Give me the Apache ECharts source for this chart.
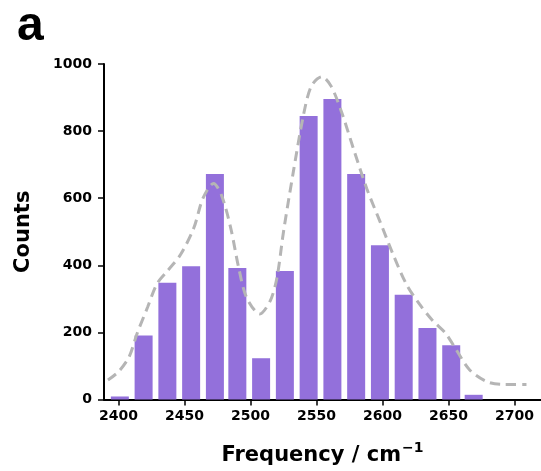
<!DOCTYPE html>
<html>
<head>
<meta charset="utf-8">
<script src="https://cdn.jsdelivr.net/npm/echarts@6/dist/echarts.min.js"></script>
<style>
  html, body { margin: 0; padding: 0; background: #fff; }
  #main { width: 541px; height: 471px; }
</style>
</head>
<body>
<div id="main"></div>
<script>
// histogram bins (centres) and counts
var binCenters = [2401, 2419, 2437, 2455, 2473, 2490, 2508, 2526, 2544, 2562, 2580, 2598, 2616, 2634, 2652, 2669];
var counts = [9, 191, 348, 397, 672, 392, 123, 383, 845, 896, 672, 460, 312, 213, 162, 14];

// dashed density curve
var kdeX = [2392, 2400, 2408, 2414, 2422, 2429, 2437, 2447, 2457, 2464, 2472, 2478, 2485, 2491, 2497, 2507, 2515, 2520, 2525, 2532, 2540, 2546, 2554, 2561, 2569, 2578, 2588, 2598, 2608, 2618, 2628, 2638, 2648, 2656, 2666, 2679, 2691, 2709];
var kdeY = [58, 83, 127, 196, 275, 344, 383, 432, 511, 600, 644, 609, 511, 393, 304, 255, 295, 363, 501, 669, 846, 934, 962, 934, 856, 747, 629, 531, 432, 344, 284, 235, 196, 147, 88, 53, 45, 45];

var xTicks = [2400, 2450, 2500, 2550, 2600, 2650, 2700];

var font = 'DejaVu Sans';

var chart = echarts.init(document.getElementById('main'));

var option = {
  animation: false,
  backgroundColor: '#fff',
  grid: { left: 104, right: 0, top: 64, bottom: 68 },
  // panel letter
  graphic: [{
    type: 'text',
    left: 17,
    top: 3,
    style: {
      text: 'a',
      font: 'bold 48px "Liberation Sans"',
      fill: '#000'
    }
  }],
  xAxis: {
    type: 'value',
    min: 2389,
    max: 2720,
    name: 'Frequency / cm{sup|\u22121}',
    nameLocation: 'middle',
    nameGap: 42,
    nameTextStyle: {
      fontFamily: font,
      fontWeight: 'bold',
      fontSize: 21,
      color: '#000',
      rich: {
        sup: { fontFamily: font, fontSize: 14, color: '#000', verticalAlign: 'top', padding: [0, 0, 14, 1] }
      }
    },
    axisLine: { lineStyle: { color: '#000', width: 2 } },
    axisTick: { customValues: xTicks, length: 6, lineStyle: { color: '#000', width: 1.5 } },
    axisLabel: {
      customValues: xTicks,
      margin: 10,
      formatter: function (v) { return String(v); },
      fontFamily: font,
      fontWeight: 'bold',
      fontSize: 14,
      color: '#000'
    },
    splitLine: { show: false }
  },
  yAxis: {
    type: 'value',
    min: 0,
    max: 1000,
    interval: 200,
    name: 'Counts',
    nameLocation: 'middle',
    nameGap: 70,
    nameTextStyle: {
      fontFamily: font,
      fontWeight: 'bold',
      fontSize: 21,
      color: '#000'
    },
    axisLine: { show: true, lineStyle: { color: '#000', width: 2 } },
    axisTick: { show: true, length: 6, lineStyle: { color: '#000', width: 1.5 } },
    axisLabel: {
      margin: 12,
      formatter: function (v) { return String(v); },
      fontFamily: font,
      fontWeight: 'bold',
      fontSize: 14,
      color: '#000'
    },
    splitLine: { show: false }
  },
  series: [
    {
      type: 'bar',
      data: binCenters.map(function (x, i) { return [x, counts[i]]; }),
      barWidth: 18,
      itemStyle: { color: '#9370DB' },
      z: 2
    },
    {
      type: 'line',
      data: kdeX.map(function (x, i) { return [x, kdeY[i]]; }),
      smooth: 0.3,
      showSymbol: false,
      lineStyle: { color: '#b5b5b5', width: 3, type: [10, 6] },
      z: 3
    }
  ]
};

chart.setOption(option);
</script>
</body>
</html>
